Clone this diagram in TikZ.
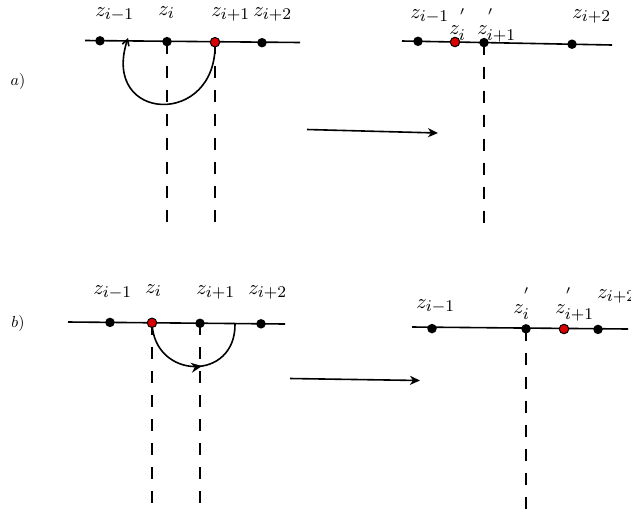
\documentclass[tikz,border=0pt]{standalone}
\usetikzlibrary{arrows.meta,decorations.markings}
\DeclareMathSizes{10}{10}{8}{6}
\newcommand{\hpr}{\raisebox{2.5pt}{$\scriptstyle{}'$}}
\tikzset{
  axis/.style={line width=1.6pt},
  pt/.style={circle,fill=black,inner sep=0pt,minimum size=9.5pt},
  redpt/.style={circle,fill=red!85!black,draw=black,line width=1pt,inner sep=0pt,minimum size=9.5pt},
  vdash/.style={line width=2pt,dash pattern=on 12pt off 12pt},
  lbl/.style={scale=2.05,inner sep=0pt,anchor=base west},
  tag/.style={scale=1.6,inner sep=0pt},
  curve/.style={line width=1.6pt},
  bigarrow/.style={line width=1.6pt,-{Stealth[length=10pt,width=9pt,inset=3pt]}}
}
\begin{document}
\begin{tikzpicture}[x=1pt,y=-1pt]
\useasboundingbox (0,0) rectangle (631,515);
% ---------- panel a, left ----------
\node[tag] (ta) at (18,81) {$a)$};
\coordinate (a1s) at (85,40.5);
\coordinate (a1e) at (300,42.5);
\draw[axis] (a1s) -- (a1e);
\coordinate (a1) at (100,40.8);
\coordinate (a2) at (167,41.6);
\coordinate (a3) at (215,42.2);
\coordinate (a4) at (262,42.7);
\coordinate (a2b) at (167,224);
\coordinate (a3b) at (215,224);
\draw[vdash] (a2) -- (a2b);
\draw[vdash] (a3) -- (a3b);
\coordinate (aend) at (128,38);
\draw[curve,-{Straight Barb[length=6pt,width=7pt]}] (a3) .. controls (218,128) and (100,123) .. (aend);
\node[pt] (na1) at (a1) {};
\node[pt] (na2) at (a2) {};
\node[redpt] (na3) at (a3) {};
\node[pt] (na4) at (a4) {};
\node[lbl] (la1) at (95,16) {$z_{i-1}$};
\node[lbl] (la2) at (158,15) {$z_i$};
\node[lbl] (la3) at (211,16) {$z_{i+1}$};
\node[lbl] (la4) at (253,16) {$z_{i+2}$};
% ---------- panel a, right ----------
\coordinate (a5s) at (402,41);
\coordinate (a5e) at (612,45);
\draw[axis] (a5s) -- (a5e);
\coordinate (a5) at (418,41.3);
\coordinate (a6) at (455,42);
\coordinate (a7) at (484,42.6);
\coordinate (a8) at (572,44.2);
\coordinate (a7b) at (484,224);
\draw[vdash] (a7) -- (a7b);
\node[pt] (na5) at (a5) {};
\node[redpt] (na6) at (a6) {};
\node[pt] (na7) at (a7) {};
\node[pt] (na8) at (a8) {};
\node[lbl] (la5) at (410,18) {$z_{i-1}$};
\node[lbl] (la6) at (449,34) {$z_i^{\hpr}$};
\node[lbl] (la7) at (477,34) {$z_{i+1}^{\hpr}$};
\node[lbl] (la8) at (572,18) {$z_{i+2}$};
% ---------- arrow a ----------
\coordinate (arA1) at (307,129.5);
\coordinate (arA2) at (438,133);
\draw[bigarrow] (arA1) -- (arA2);
% ---------- panel b, left ----------
\node[tag] (tb) at (18,323) {$b)$};
\coordinate (b1s) at (68,322);
\coordinate (b1e) at (285,324);
\draw[axis] (b1s) -- (b1e);
\coordinate (b1) at (110,322.4);
\coordinate (b2) at (152,322.8);
\coordinate (b3) at (200,323.3);
\coordinate (b4) at (261,323.8);
\coordinate (b2b) at (152,504);
\coordinate (b3b) at (200,504);
\coordinate (bend) at (235,323.6);
\draw[vdash] (b2) -- (b2b);
\draw[vdash] (b3) -- (b3b);
\draw[curve,postaction={decorate},decoration={markings,mark=at position 0.56 with {\arrow{Stealth[length=11pt,width=10pt]}}}]
  (b2) .. controls (154,380) and (236,382) .. (bend);
\node[pt] (nb1) at (b1) {};
\node[redpt] (nb2) at (b2) {};
\node[pt] (nb3) at (b3) {};
\node[pt] (nb4) at (b4) {};
\node[lbl] (lb1) at (93,294) {$z_{i-1}$};
\node[lbl] (lb2) at (145,293) {$z_i$};
\node[lbl] (lb3) at (196,294) {$z_{i+1}$};
\node[lbl] (lb4) at (248,294) {$z_{i+2}$};
% ---------- panel b, right ----------
\coordinate (b5s) at (412,327);
\coordinate (b5e) at (628,329);
\draw[axis] (b5s) -- (b5e);
\coordinate (b5) at (432,328.6);
\coordinate (b6) at (526,328.8);
\coordinate (b7) at (564,329);
\coordinate (b8) at (598,329.4);
\coordinate (b6b) at (526,510);
\draw[vdash] (b6) -- (b6b);
\node[pt] (nb5) at (b5) {};
\node[pt] (nb6) at (b6) {};
\node[redpt] (nb7) at (b7) {};
\node[pt] (nb8) at (b8) {};
\node[lbl] (lb5) at (416,308) {$z_{i-1}$};
\node[lbl] (lb6) at (513,313) {$z_i^{\hpr}$};
\node[lbl] (lb7) at (555,313) {$z_{i+1}^{\hpr}$};
\node[lbl] (lb8) at (597,298) {$z_{i+2}$};
% ---------- arrow b ----------
\coordinate (arB1) at (290,378.5);
\coordinate (arB2) at (420,380.5);
\draw[bigarrow] (arB1) -- (arB2);
\end{tikzpicture}
\end{document}
